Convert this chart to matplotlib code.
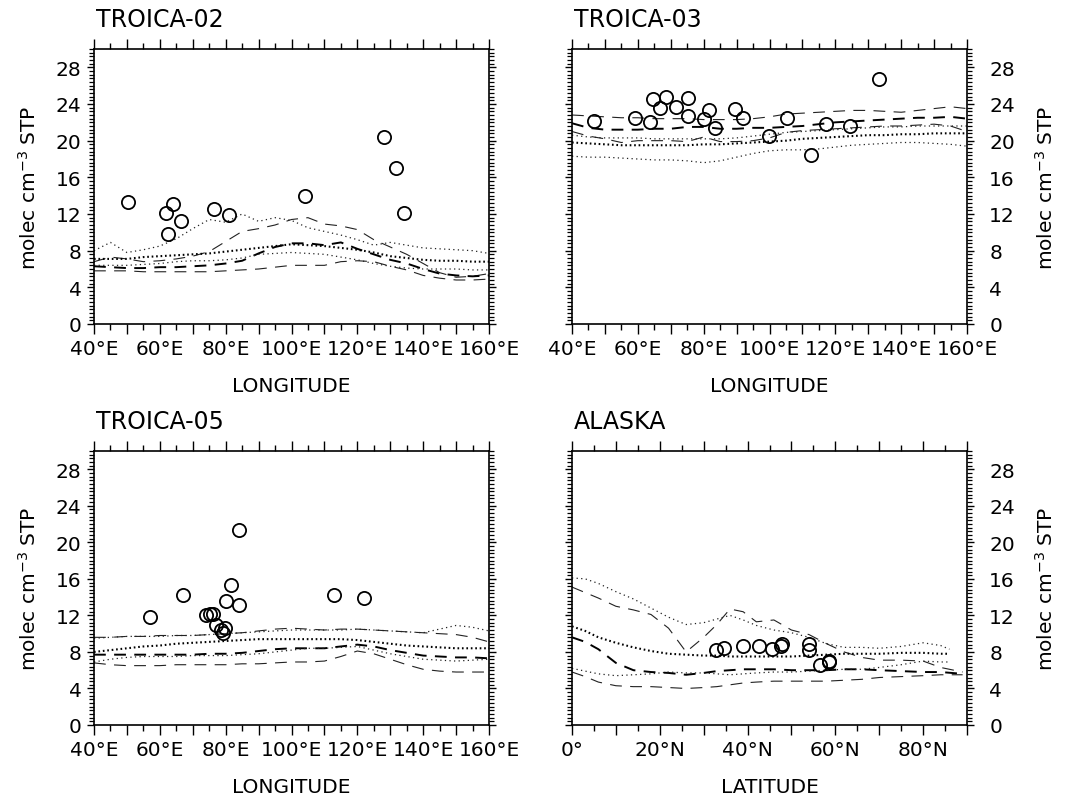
import matplotlib
matplotlib.use("Agg")
import matplotlib.pyplot as plt
from matplotlib.ticker import FixedLocator, FixedFormatter, MultipleLocator

plt.rcParams['font.family'] = ['DejaVu Sans']
plt.rcParams['lines.scale_dashes'] = False

# ---------------- data ----------------
lon_grid = [40, 45, 50, 55, 60, 65, 70, 75, 80, 85, 90, 95, 100,
            105, 110, 115, 120, 125, 130, 135, 140, 145, 150, 155, 160]

# TROICA-02
t02_obs_lon = [50.2, 61.8, 62.4, 64.0, 66.4, 76.5, 81.1, 104.1, 128.1, 131.8, 134.2]
t02_obs_val = [13.3, 12.1, 9.8, 13.1, 11.2, 12.5, 11.9, 14.0, 20.4, 17.0, 12.1]
t02_a_max = [6.8, 7.3, 7.1, 6.8, 6.9, 7.1, 7.4, 7.9, 9.0, 10.1, 10.4, 10.8, 11.4,
             11.6, 10.9, 10.7, 10.3, 9.2, 8.4, 7.6, 6.6, 5.6, 5.1, 5.2, 5.5]
t02_a_mean = [6.3, 6.2, 6.1, 6.1, 6.2, 6.2, 6.3, 6.4, 6.6, 6.9, 7.7, 8.4, 8.8,
              8.8, 8.6, 8.9, 8.2, 7.6, 7.0, 6.6, 6.0, 5.5, 5.3, 5.2, 5.3]
t02_a_min = [5.8, 5.8, 5.8, 5.7, 5.7, 5.7, 5.7, 5.7, 5.8, 5.9, 6.0, 6.2, 6.4,
             6.4, 6.4, 6.8, 6.9, 6.8, 6.3, 5.9, 5.3, 5.0, 4.8, 4.8, 4.9]
t02_b_max = [8.0, 8.9, 7.8, 8.1, 8.5, 9.3, 10.4, 11.4, 11.1, 12.0, 11.2, 11.6, 11.3,
             10.5, 10.1, 9.7, 9.2, 8.6, 8.9, 8.6, 8.3, 8.2, 8.1, 8.0, 7.7]
t02_b_mean = [7.1, 7.1, 7.1, 7.3, 7.4, 7.5, 7.6, 7.7, 7.9, 8.1, 8.3, 8.5, 8.7,
              8.6, 8.5, 8.3, 8.1, 7.8, 7.4, 7.2, 7.0, 6.9, 6.9, 6.8, 6.8]
t02_b_min = [6.4, 6.4, 6.4, 6.5, 6.6, 6.8, 6.9, 6.9, 7.0, 7.2, 7.6, 7.7, 7.8,
             7.7, 7.6, 7.3, 7.0, 6.6, 6.3, 6.1, 6.0, 6.0, 6.0, 5.9, 5.9]

# TROICA-03
t03_obs_lon = [46.6, 59.0, 63.8, 64.6, 66.8, 68.5, 71.7, 75.2, 75.2, 80.0,
               81.6, 83.3, 89.6, 91.9, 99.8, 105.3, 112.5, 117.2, 124.6, 133.3]
t03_obs_val = [22.2, 22.5, 22.0, 24.5, 23.6, 24.8, 23.7, 24.7, 22.7, 22.4,
               23.4, 21.4, 23.5, 22.5, 20.5, 22.5, 18.4, 21.8, 21.6, 26.7]
t03_a_max = [22.8, 22.7, 22.6, 22.5, 22.5, 22.4, 22.4, 22.4, 22.3, 22.3, 22.3, 22.4, 22.6,
             22.9, 23.0, 23.1, 23.2, 23.3, 23.3, 23.2, 23.1, 23.3, 23.5, 23.7, 23.5]
t03_a_mean = [21.9, 21.4, 21.2, 21.2, 21.2, 21.3, 21.3, 21.5, 21.5, 21.3, 21.3, 21.4, 21.4,
              21.5, 21.6, 21.8, 22.0, 22.1, 22.2, 22.3, 22.4, 22.5, 22.5, 22.6, 22.4]
t03_a_min = [21.0, 20.5, 20.2, 19.8, 20.0, 20.0, 20.0, 19.9, 20.4, 19.9, 19.9, 20.0, 20.3,
             20.9, 21.1, 21.2, 21.3, 21.4, 21.5, 21.6, 21.6, 21.7, 21.8, 21.6, 21.0]
t03_b_max = [20.6, 20.4, 20.3, 20.3, 20.3, 20.2, 20.2, 20.2, 20.2, 20.2, 20.3, 20.5, 20.7,
             20.9, 21.0, 21.1, 21.2, 21.3, 21.4, 21.5, 21.5, 21.6, 21.6, 21.6, 21.6]
t03_b_mean = [19.8, 19.7, 19.6, 19.5, 19.5, 19.5, 19.5, 19.5, 19.6, 19.6, 19.7, 19.8, 19.9,
              20.0, 20.2, 20.3, 20.4, 20.5, 20.6, 20.6, 20.7, 20.7, 20.8, 20.8, 20.8]
t03_b_min = [18.3, 18.2, 18.2, 18.1, 18.0, 17.9, 17.9, 17.8, 17.6, 17.8, 18.2, 18.6, 18.9,
             19.0, 19.0, 19.1, 19.3, 19.5, 19.6, 19.7, 19.8, 19.8, 19.7, 19.6, 19.4]

# TROICA-05
t05_obs_lon = [57.0, 67.0, 74.0, 75.3, 76.0, 77.0, 78.6, 79.2, 79.7, 80.0,
               81.5, 84.0, 84.0, 113.0, 122.0]
t05_obs_val = [11.8, 14.2, 12.0, 12.2, 12.2, 11.0, 10.4, 10.1, 10.6, 13.6,
               15.3, 13.1, 21.4, 14.2, 13.9]
t05_a_max = [9.6, 9.6, 9.7, 9.7, 9.8, 9.8, 9.8, 9.9, 10.0, 10.1, 10.3, 10.5, 10.6,
             10.5, 10.4, 10.5, 10.5, 10.4, 10.3, 10.2, 10.1, 10.0, 9.9, 9.6, 9.1]
t05_a_mean = [7.7, 7.7, 7.7, 7.7, 7.7, 7.7, 7.7, 7.8, 7.8, 7.9, 8.1, 8.3, 8.4,
              8.4, 8.4, 8.6, 8.8, 8.6, 8.2, 7.9, 7.6, 7.5, 7.4, 7.4, 7.3]
t05_a_min = [6.8, 6.6, 6.5, 6.5, 6.5, 6.6, 6.6, 6.6, 6.6, 6.7, 6.7, 6.8, 6.9,
             6.9, 7.0, 7.5, 8.1, 7.8, 7.2, 6.6, 6.1, 5.9, 5.8, 5.8, 5.8]
t05_b_max = [9.5, 9.6, 9.7, 9.7, 9.7, 9.8, 9.8, 9.9, 10.0, 10.1, 10.2, 10.3, 10.4,
             10.4, 10.4, 10.4, 10.5, 10.4, 10.3, 10.2, 10.1, 10.5, 10.9, 10.7, 10.3]
t05_b_mean = [8.0, 8.2, 8.4, 8.6, 8.7, 8.9, 9.0, 9.1, 9.2, 9.3, 9.4, 9.4, 9.4,
              9.4, 9.4, 9.4, 9.3, 9.1, 8.9, 8.7, 8.6, 8.5, 8.4, 8.4, 8.4]
t05_b_min = [6.9, 7.2, 7.4, 7.5, 7.5, 7.5, 7.6, 7.6, 7.6, 7.7, 7.8, 8.0, 8.2,
             8.4, 8.4, 8.5, 8.6, 8.2, 7.8, 7.5, 7.2, 7.1, 7.0, 7.1, 7.2]

# ALASKA
ak_lat_a = [0, 3, 6, 10, 14, 18, 22, 26, 30, 33, 36, 39, 42, 46, 50, 54, 58, 62,
            66, 70, 75, 80, 84, 89]
ak_lat_b = [0, 3, 6, 10, 14, 18, 22, 26, 30, 33, 36, 39, 42, 46, 50, 54, 58, 62,
            66, 70, 75, 80, 84, 86]
ak_obs_lat = [32.7, 34.7, 38.9, 42.7, 45.5, 47.6, 47.8, 54.1, 54.1, 56.5, 58.5, 58.6]
ak_obs_val = [8.2, 8.4, 8.6, 8.7, 8.3, 8.7, 8.9, 8.9, 8.2, 6.6, 6.9, 7.0]
ak_a_max = [15.1, 14.5, 13.9, 13.0, 12.6, 12.1, 10.6, 8.0, 9.6, 11.0, 12.7, 12.4,
            11.3, 11.5, 10.4, 9.9, 8.9, 8.0, 7.4, 7.1, 7.1, 7.0, 6.3, 5.8]
ak_a_mean = [9.6, 9.1, 8.3, 6.8, 6.0, 5.8, 5.7, 5.5, 5.7, 5.9, 6.0, 6.1,
             6.1, 6.1, 6.0, 6.0, 6.0, 6.1, 6.1, 6.0, 5.9, 5.8, 5.8, 5.6]
ak_a_min = [5.8, 5.3, 4.7, 4.3, 4.2, 4.2, 4.1, 4.0, 4.1, 4.2, 4.4, 4.6,
            4.7, 4.8, 4.8, 4.8, 4.8, 4.9, 5.0, 5.2, 5.3, 5.4, 5.5, 5.5]
ak_b_max = [16.1, 16.0, 15.5, 14.6, 13.8, 12.8, 11.8, 11.0, 11.2, 11.6, 12.0, 11.5,
            10.9, 10.4, 10.1, 9.6, 8.9, 8.5, 8.5, 8.4, 8.6, 9.0, 8.7, 8.3]
ak_b_mean = [10.8, 10.3, 9.6, 9.0, 8.5, 8.1, 7.8, 7.7, 7.6, 7.6, 7.5, 7.5,
             7.5, 7.5, 7.5, 7.6, 7.7, 7.8, 7.8, 7.8, 7.9, 7.9, 7.8, 7.8]
ak_b_min = [6.2, 5.9, 5.6, 5.4, 5.5, 5.6, 5.8, 5.7, 5.7, 5.6, 5.5, 5.6,
            5.7, 5.8, 5.8, 5.9, 6.0, 6.1, 6.1, 6.3, 6.6, 7.0, 6.9, 6.9]

lon_ticks = [40, 50, 60, 70, 80, 90, 100, 110, 120, 130, 140, 150, 160]
lon_tick_labels = ['40°E', '', '60°E', '', '80°E', '', '100°E', '', '120°E',
                   '', '140°E', '', '160°E']
lat_ticks = [0, 10, 20, 30, 40, 50, 60, 70, 80, 90]
lat_tick_labels = ['0°', '', '20°N', '', '40°N', '', '60°N', '', '80°N', '']
y_ticks = [0, 4, 8, 12, 16, 20, 24, 28]

panels = [
    dict(title='TROICA-02', x=lon_grid, xb=lon_grid, obs_x=t02_obs_lon, obs_y=t02_obs_val,
         a=(t02_a_max, t02_a_mean, t02_a_min), b=(t02_b_max, t02_b_mean, t02_b_min),
         xlim=(40, 160), ticks=lon_ticks, labels=lon_tick_labels, xlabel='LONGITUDE', side='left'),
    dict(title='TROICA-03', x=lon_grid, xb=lon_grid, obs_x=t03_obs_lon, obs_y=t03_obs_val,
         a=(t03_a_max, t03_a_mean, t03_a_min), b=(t03_b_max, t03_b_mean, t03_b_min),
         xlim=(40, 160), ticks=lon_ticks, labels=lon_tick_labels, xlabel='LONGITUDE', side='right'),
    dict(title='TROICA-05', x=lon_grid, xb=lon_grid, obs_x=t05_obs_lon, obs_y=t05_obs_val,
         a=(t05_a_max, t05_a_mean, t05_a_min), b=(t05_b_max, t05_b_mean, t05_b_min),
         xlim=(40, 160), ticks=lon_ticks, labels=lon_tick_labels, xlabel='LONGITUDE', side='left'),
    dict(title='ALASKA', x=ak_lat_a, xb=ak_lat_b, obs_x=ak_obs_lat, obs_y=ak_obs_val,
         a=(ak_a_max, ak_a_mean, ak_a_min), b=(ak_b_max, ak_b_mean, ak_b_min),
         xlim=(0, 90), ticks=lat_ticks, labels=lat_tick_labels, xlabel='LATITUDE', side='right'),
]

# ---------------- figure ----------------
W, H = 1070, 803
fig = plt.figure(figsize=(W / 100, H / 100), dpi=100)

# axes boxes in pixels: (left, top, right, bottom)
boxes = [(94, 50, 489, 325), (572, 50, 967, 325),
         (94, 452, 489, 726), (572, 452, 967, 726)]

thin_dash = dict(color='#222222', lw=0.8, dashes=(8.5, 6))
thick_dash = dict(color='black', lw=1.4, dashes=(8.5, 6))
thin_dot = dict(color='#222222', lw=0.9, dashes=(0.9, 2.4))
thick_dot = dict(color='black', lw=1.5, dashes=(1.2, 2.0))
FS = 14.5
for p, (l, t, r, b) in zip(panels, boxes):
    ax = fig.add_axes([l / W, 1 - b / H, (r - l) / W, (b - t) / H])
    amax, amean, amin = p['a']
    bmax, bmean, bmin = p['b']
    ax.plot(p['x'], amax, **thin_dash)
    ax.plot(p['x'], amean, **thick_dash)
    ax.plot(p['x'], amin, **thin_dash)
    ax.plot(p['xb'], bmax, **thin_dot)
    ax.plot(p['xb'], bmean, **thick_dot)
    ax.plot(p['xb'], bmin, **thin_dot)
    ax.plot(p['obs_x'], p['obs_y'], linestyle='none', marker='o', ms=9.5,
            mfc='none', mec='black', mew=1.3, zorder=5)

    ax.set_xlim(*p['xlim'])
    ax.set_ylim(0, 30)
    ax.xaxis.set_major_locator(FixedLocator(p['ticks']))
    ax.xaxis.set_major_formatter(FixedFormatter(p['labels']))
    ax.xaxis.set_minor_locator(MultipleLocator(5))
    ax.yaxis.set_major_locator(FixedLocator(y_ticks))
    ax.yaxis.set_minor_locator(MultipleLocator(0.4))

    for s in ax.spines.values():
        s.set_linewidth(1.2)
    ax.tick_params(which='both', direction='out', top=True, bottom=True,
                   left=True, right=True, width=1.0, labelsize=FS)
    ax.tick_params(axis='x', which='major', length=7.5, pad=3)
    ax.tick_params(axis='x', which='minor', length=4)
    ax.tick_params(axis='y', which='major', length=5, pad=4)
    ax.tick_params(axis='y', which='minor', length=3.5, width=0.9)

    if p['side'] == 'left':
        ax.tick_params(axis='y', labelleft=True, labelright=False)
        ax.text(-0.165, 0.5, 'molec cm$^{-3}$ STP', transform=ax.transAxes,
                rotation=90, ha='center', va='center', fontsize=FS)
    else:
        ax.tick_params(axis='y', labelleft=False, labelright=True, pad=11)
        ax.text(1.2, 0.5, 'molec cm$^{-3}$ STP', transform=ax.transAxes,
                rotation=90, ha='center', va='center', fontsize=FS)

    ax.text(0.005, 1.085, p['title'], transform=ax.transAxes, ha='left',
            va='baseline', fontsize=17)
    ax.text(0.5, -0.245, p['xlabel'], transform=ax.transAxes, ha='center',
            va='baseline', fontsize=FS)

fig.savefig('out.png', dpi=100)
